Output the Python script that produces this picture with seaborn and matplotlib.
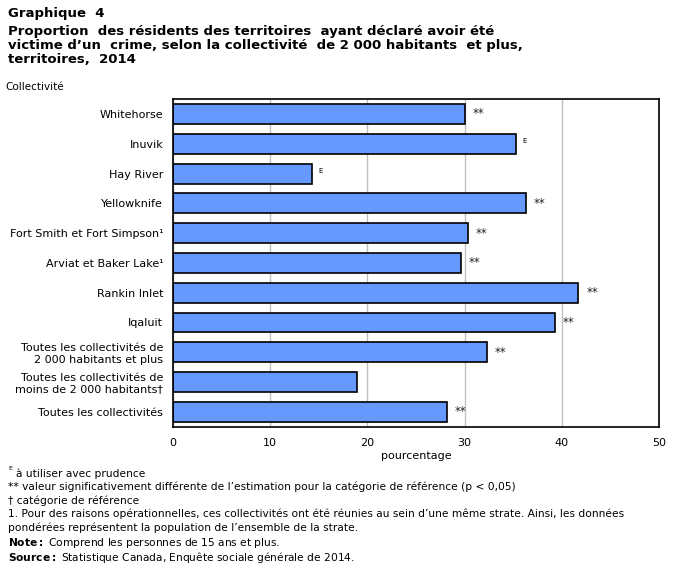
import pandas as pd
import matplotlib.pyplot as plt
import seaborn as sns

# Data
communities = ['Whitehorse', 'Inuvik', 'Hay River', 'Yellowknife',
               'Fort Smith et Fort Simpson¹', 'Arviat et Baker Lake¹',
               'Rankin Inlet', 'Iqaluit',
               'Toutes les collectivités de\n2 000 habitants et plus',
               'Toutes les collectivités de\nmoins de 2 000 habitants†',
               'Toutes les collectivités']
values = [30.0, 35.3, 14.3, 36.3, 30.3, 29.6, 41.7, 39.3, 32.3, 18.9, 28.2]
flags = ['**', 'E', 'E', '**', '**', '**', '**', '**', '**', '', '**']

df = pd.DataFrame({'Collectivite': communities, 'Pourcentage': values, 'flag': flags})

sns.set_style('white')
plt.rcParams['font.family'] = ['DejaVu Sans']
plt.rcParams['text.color'] = 'black'

fig = plt.figure(figsize=(6.76, 5.66), dpi=100)
ax = fig.add_axes([0.256, 0.246, 0.719, 0.579])

sns.barplot(data=df, y='Collectivite', x='Pourcentage', orient='h',
            color='#6699FF', edgecolor='black', linewidth=1.2,
            width=0.67, saturation=1, ax=ax)

ax.set_xlim(0, 50)
ax.set_xticks([0, 10, 20, 30, 40, 50])
ax.xaxis.grid(True, color='#c0c0c0', linewidth=1)
ax.set_axisbelow(True)
for s in ax.spines.values():
    s.set_color('black')
    s.set_linewidth(1.2)
ax.tick_params(axis='both', labelsize=8, length=0, colors='black')
ax.tick_params(axis='x', pad=8)
ax.tick_params(axis='y', pad=7)
ax.set_ylabel('')
ax.set_xlabel('pourcentage', fontsize=8, labelpad=2, color='black')

for i, (v, f) in enumerate(zip(values, flags)):
    if f == '**':
        ax.text(v + 0.8, i, '**', va='center', ha='left', fontsize=8.5, color='#222222')
    elif f == 'E':
        ax.text(v + 0.6, i - 0.1, 'E', va='center', ha='left', fontsize=5, color='black')

# Titles
fig.text(0.012, 0.988, 'Graphique  4', fontsize=9.5, fontweight='bold', va='top')
fig.text(0.012, 0.955,
         'Proportion  des résidents des territoires  ayant déclaré avoir été\n'
         'victime d\u2019un  crime, selon la collectivité  de 2 000 habitants  et plus,\n'
         'territoires,  2014',
         fontsize=9.5, fontweight='bold', va='top', linespacing=1.1)
fig.text(0.008, 0.855, 'Collectivité', fontsize=7.5, va='top')

# Footnotes
fs = 7.7
y0 = 0.173
dy = 0.0240
fig.text(0.012, y0 + 0.004, 'E', fontsize=4.5, va='top')
fig.text(0.024, y0, 'à utiliser avec prudence', fontsize=fs, va='top')
fig.text(0.012, y0 - dy, '** valeur significativement différente de l\u2019estimation pour la catégorie de référence (p < 0,05)', fontsize=fs, va='top')
fig.text(0.012, y0 - 2 * dy, '† catégorie de référence', fontsize=fs, va='top')
fig.text(0.012, y0 - 3 * dy, '1. Pour des raisons opérationnelles, ces collectivités ont été réunies au sein d\u2019une même strate. Ainsi, les données', fontsize=fs, va='top')
fig.text(0.012, y0 - 4 * dy, 'pondérées représentent la population de l\u2019ensemble de la strate.', fontsize=fs, va='top')
fig.text(0.012, y0 - 5 * dy, r'$\bf{Note:}$ Comprend les personnes de 15 ans et plus.', fontsize=fs, va='top')
fig.text(0.012, y0 - 6 * dy, r'$\bf{Source:}$ Statistique Canada, Enquête sociale générale de 2014.', fontsize=fs, va='top')

fig.savefig('out.png', dpi=100)
